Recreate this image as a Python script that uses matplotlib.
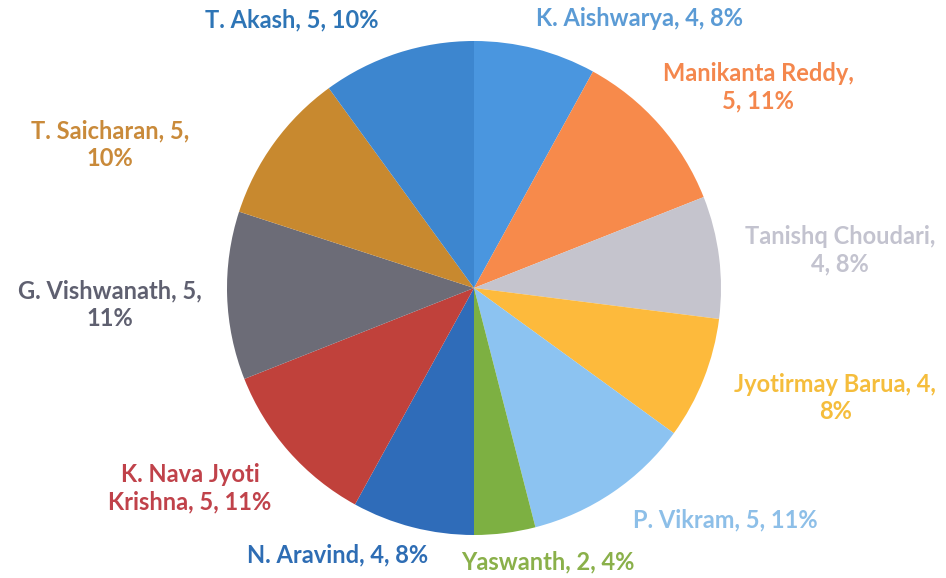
import matplotlib.pyplot as plt

names = ["K. Aishwarya", "Manikanta Reddy", "Tanishq Choudari", "Jyotirmay Barua",
         "P. Vikram", "Yaswanth", "N. Aravind", "K. Nava Jyoti Krishna",
         "G. Vishwanath", "T. Saicharan", "T. Akash"]
values = [4, 5, 4, 4, 5, 2, 4, 5, 5, 5, 5]
percents = [8, 11, 8, 8, 11, 4, 8, 11, 11, 10, 10]

slice_colors = ["#4a96df", "#f78a4b", "#c5c4cd", "#fdba3c", "#8cc3f1", "#7db042",
                "#2f6cb9", "#c0413b", "#6c6c77", "#c8892f", "#3d86cf"]
text_colors = ["#5b9bd5", "#f4874d", "#c3c3cf", "#f5bd3c", "#8dbfe8", "#8ab04a",
               "#2e6db4", "#c0424a", "#5f6070", "#c98a3a", "#2e75b6"]

# label layout (pie radius = 1), line breaks as in the original
label_pos = [(0.672, 1.093), (1.150, 0.814), (1.482, 0.154), (1.462, -0.445),
             (1.016, -0.939), (0.300, -1.109), (-0.551, -1.081), (-1.150, -0.810),
             (-1.474, -0.069), (-1.474, 0.579), (-0.737, 1.085)]
breaks = [None, "after_name", "after_name", "before_pct", None, None, None,
          "nava", "before_pct", "before_pct", None]

fig = plt.figure(figsize=(9.46, 5.78), dpi=100)
ax = fig.add_axes([0, 0, 1, 1])

ax.pie(percents, colors=slice_colors, startangle=90, counterclock=False,
       radius=1, center=(0, 0), wedgeprops=dict(linewidth=0))

for i, name in enumerate(names):
    v, p = values[i], percents[i]
    b = breaks[i]
    if b == "after_name":
        txt = f"{name},\n{v}, {p}%"
    elif b == "before_pct":
        txt = f"{name}, {v},\n{p}%"
    elif b == "nava":
        txt = f"K. Nava Jyoti\nKrishna, {v}, {p}%"
    else:
        txt = f"{name}, {v}, {p}%"
    x, y = label_pos[i]
    ax.text(x, y, txt, ha="center", va="center", color=text_colors[i],
            fontsize=17, fontweight="bold", family=["Lato", "DejaVu Sans"],
            linespacing=1.25)

ax.set_xlim((0 - 474) / 247, (946 - 474) / 247)
ax.set_ylim((288 - 578) / 247, (288 - 0) / 247)
ax.set_aspect("auto")
ax.axis("off")

fig.savefig("out.png", dpi=100, facecolor="white")
